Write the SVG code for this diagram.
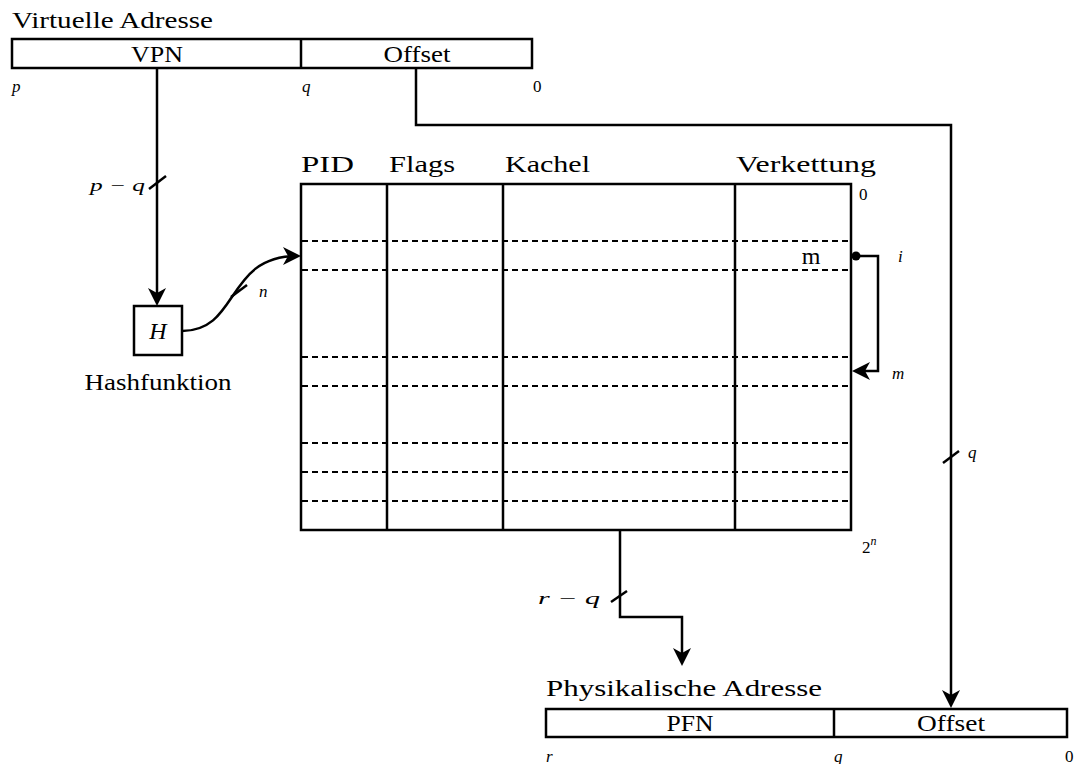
<svg xmlns="http://www.w3.org/2000/svg" width="1080" height="764" viewBox="0 0 1080 764" font-family="Liberation Serif, DejaVu Serif, serif">
<style>
.t{font-size:24px}
.s{font-size:17px;font-style:italic}
.n{font-size:17px}
.b{fill:#fff;stroke:#000;stroke-width:2.5}
.l{fill:none;stroke:#000;stroke-width:2.5}
.d{fill:none;stroke:#000;stroke-width:2;stroke-dasharray:6 4}
.c{fill:none;stroke:#000;stroke-width:2.5}
</style>
<defs>
<marker id="ah" viewBox="0 0 18 18" refX="14" refY="9" markerWidth="18" markerHeight="18" markerUnits="userSpaceOnUse" orient="auto">
<path d="M0,0 L18,9 L0,18 L5,9 Z" fill="#000"/>
</marker>
</defs>
<rect width="1080" height="764" fill="#fff"/>

<g id="virt" font-family="Liberation Serif, serif">
<text class="t" x="12" y="28" textLength="201" lengthAdjust="spacingAndGlyphs">Virtuelle Adresse</text>
<rect class="b" x="12" y="39" width="520" height="29"/>
<line class="l" x1="301" y1="39" x2="301" y2="68"/>
<text class="t" x="157" y="62" text-anchor="middle" textLength="52" lengthAdjust="spacingAndGlyphs">VPN</text>
<text class="t" x="417" y="62" text-anchor="middle" textLength="67" lengthAdjust="spacingAndGlyphs">Offset</text>
<text class="s" x="12" y="92">p</text>
<text class="s" x="302" y="92">q</text>
<text class="n" x="533" y="92">0</text>
</g>

<g id="hash" font-family="Liberation Serif, serif">
<rect class="b" x="134" y="306" width="48" height="49"/>
<text class="t" x="158" y="339" text-anchor="middle" font-style="italic">H</text>
<text class="t" x="158" y="390" text-anchor="middle" textLength="147" lengthAdjust="spacingAndGlyphs">Hashfunktion</text>
</g>

<g id="table" font-family="Liberation Serif, serif">
<text class="t" x="301" y="172" textLength="53" lengthAdjust="spacingAndGlyphs">PID</text>
<text class="t" x="389" y="172" textLength="66" lengthAdjust="spacingAndGlyphs">Flags</text>
<text class="t" x="505" y="172" textLength="85" lengthAdjust="spacingAndGlyphs">Kachel</text>
<text class="t" x="736" y="172" textLength="140" lengthAdjust="spacingAndGlyphs">Verkettung</text>
<rect class="b" x="301" y="184" width="550" height="346"/>
<line class="d" x1="302" y1="241" x2="850" y2="241"/>
<line class="d" x1="302" y1="270" x2="850" y2="270"/>
<line class="d" x1="302" y1="357" x2="850" y2="357"/>
<line class="d" x1="302" y1="386" x2="850" y2="386"/>
<line class="d" x1="302" y1="443" x2="850" y2="443"/>
<line class="d" x1="302" y1="472" x2="850" y2="472"/>
<line class="d" x1="302" y1="501" x2="850" y2="501"/>
<line class="l" x1="387" y1="184" x2="387" y2="530"/>
<line class="l" x1="503" y1="184" x2="503" y2="530"/>
<line class="l" x1="735" y1="184" x2="735" y2="530"/>
<text class="t" x="811" y="264" text-anchor="middle">m</text>
<text class="n" x="859" y="200">0</text>
<text class="s" x="898" y="262">i</text>
<text class="s" x="892" y="379">m</text>
<text class="n" x="862" y="553">2<tspan font-size="12" font-style="italic" dy="-8">n</tspan></text>
</g>

<g id="phys" font-family="Liberation Serif, serif">
<text class="t" x="546" y="696" textLength="276" lengthAdjust="spacingAndGlyphs">Physikalische Adresse</text>
<rect class="b" x="546" y="709" width="521" height="28"/>
<line class="l" x1="834" y1="709" x2="834" y2="737"/>
<text class="t" x="690" y="731" text-anchor="middle" textLength="47" lengthAdjust="spacingAndGlyphs">PFN</text>
<text class="t" x="951" y="731" text-anchor="middle" textLength="68" lengthAdjust="spacingAndGlyphs">Offset</text>
<text class="s" x="546" y="762">r</text>
<text class="s" x="834" y="762">q</text>
<text class="n" x="1065" y="762">0</text>
</g>

<g id="connectors" font-family="Liberation Serif, serif">
<path class="c" d="M157,68 V302" marker-end="url(#ah)"/>
<line class="c" x1="149" y1="189" x2="166" y2="176"/>
<text class="s" x="90" y="191" textLength="55" lengthAdjust="spacingAndGlyphs">p − q</text>

<path class="c" d="M182,331 C240,331 225,256 297,256" marker-end="url(#ah)"/>
<line class="c" x1="231" y1="297" x2="247" y2="285"/>
<text class="s" x="259" y="297">n</text>

<path class="c" d="M416,68 V125 H951 V704" marker-end="url(#ah)"/>
<line class="c" x1="943" y1="463" x2="959" y2="451"/>
<text class="s" x="968" y="458">q</text>

<circle cx="856" cy="256" r="4.5" fill="#000"/>
<path class="c" d="M856,256 H878 V371 H856" marker-end="url(#ah)"/>

<path class="c" d="M620,530 V617 H682 V662" marker-end="url(#ah)"/>
<line class="c" x1="611" y1="602" x2="627" y2="591"/>
<text class="s" x="538" y="604" textLength="62" lengthAdjust="spacingAndGlyphs">r − q</text>
</g>
</svg>
